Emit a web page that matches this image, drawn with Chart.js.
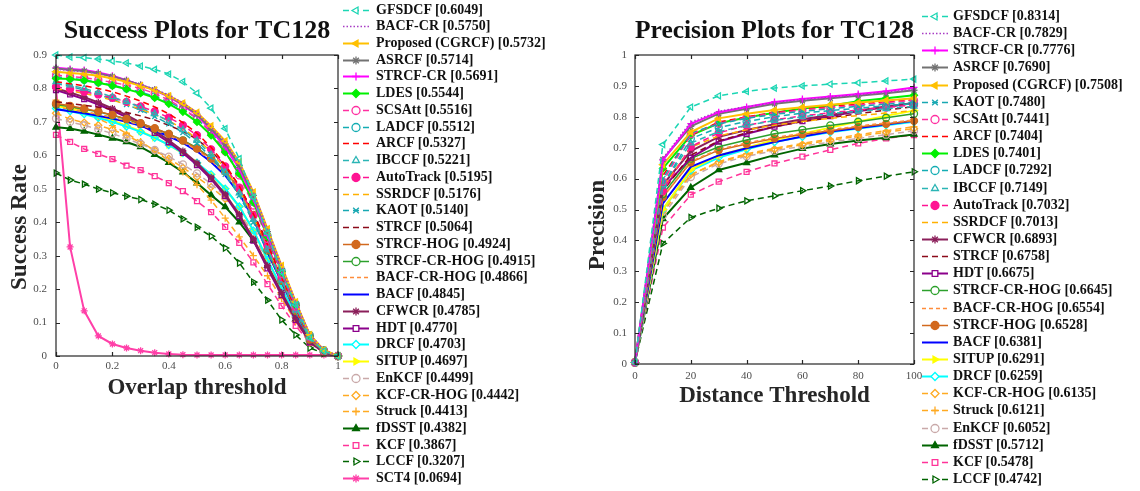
<!DOCTYPE html>
<html>
<head>
<meta charset="utf-8">
<script src="https://cdn.jsdelivr.net/npm/chart.js@4.4.1/dist/chart.umd.min.js"></script>
<style>
  body { margin: 0; background: #fff; }
  #wrap { position: relative; width: 1140px; height: 491px; overflow: hidden; background: #fff; }
  #wrap > canvas { position: absolute; top: 0; }
  .legend { position: absolute; top: 0; font: bold 14px 'Liberation Serif', 'Times New Roman', serif; color: #111; }
  .legend .row { position: absolute; left: 0; height: 16px; white-space: nowrap; }
  .legend canvas { position: absolute; left: 0; top: 0; }
  .legend span { position: absolute; top: 0; line-height: 16px; }
</style>
</head>
<body>
<div id="wrap">
  <canvas id="succ" width="345" height="420" style="left:0px"></canvas>
  <canvas id="prec" width="355" height="430" style="left:575px"></canvas>
  <div id="legSucc" class="legend" style="left:341px"></div>
  <div id="legPrec" class="legend" style="left:920px"></div>
</div>
<script>
// x values of the two plots
var overlapThresholds = [0, 0.05, 0.1, 0.15, 0.2, 0.25, 0.3, 0.35, 0.4, 0.45, 0.5, 0.55, 0.6, 0.65, 0.7, 0.75, 0.8, 0.85, 0.9, 0.95, 1];
var distanceThresholds = [0, 10, 20, 30, 40, 50, 60, 70, 80, 90, 100];

// success plot, legend order + AUC scores
var successNames = ['GFSDCF', 'BACF-CR', 'Proposed (CGRCF)', 'ASRCF', 'STRCF-CR', 'LDES', 'SCSAtt', 'LADCF', 'ARCF', 'IBCCF',
  'AutoTrack', 'SSRDCF', 'KAOT', 'STRCF', 'STRCF-HOG', 'STRCF-CR-HOG', 'BACF-CR-HOG', 'BACF', 'CFWCR', 'HDT',
  'DRCF', 'SITUP', 'EnKCF', 'KCF-CR-HOG', 'Struck', 'fDSST', 'KCF', 'LCCF', 'SCT4'];
var successScores = [0.6049, 0.5750, 0.5732, 0.5714, 0.5691, 0.5544, 0.5516, 0.5512, 0.5327, 0.5221,
  0.5195, 0.5176, 0.5140, 0.5064, 0.4924, 0.4915, 0.4866, 0.4845, 0.4785, 0.4770,
  0.4703, 0.4697, 0.4499, 0.4442, 0.4413, 0.4382, 0.3867, 0.3207, 0.0694];

var sGFSDCF     = [0.900,0.894,0.892,0.888,0.882,0.876,0.867,0.857,0.843,0.820,0.786,0.741,0.680,0.590,0.475,0.368,0.250,0.153,0.054,0.015,0];
var sBACFCR     = [0.858,0.853,0.850,0.844,0.836,0.825,0.812,0.798,0.780,0.757,0.728,0.685,0.640,0.578,0.490,0.380,0.270,0.163,0.065,0.018,0];
var sProposed   = [0.850,0.846,0.843,0.838,0.830,0.820,0.808,0.795,0.778,0.756,0.728,0.688,0.643,0.580,0.490,0.380,0.270,0.162,0.064,0.018,0];
var sASRCF      = [0.860,0.855,0.852,0.845,0.836,0.824,0.810,0.796,0.777,0.753,0.723,0.680,0.634,0.570,0.480,0.372,0.262,0.158,0.062,0.017,0];
var sSTRCFCR    = [0.862,0.858,0.855,0.848,0.838,0.825,0.810,0.795,0.775,0.750,0.720,0.675,0.625,0.560,0.470,0.360,0.255,0.152,0.060,0.016,0];
var sLDES       = [0.830,0.828,0.824,0.817,0.808,0.798,0.786,0.772,0.754,0.730,0.700,0.660,0.610,0.545,0.460,0.356,0.252,0.152,0.060,0.016,0];
var sSCSAtt     = [0.840,0.836,0.832,0.826,0.818,0.810,0.800,0.785,0.765,0.741,0.710,0.668,0.612,0.540,0.450,0.350,0.245,0.148,0.058,0.016,0];
var sLADCF      = [0.835,0.830,0.826,0.818,0.810,0.800,0.789,0.776,0.760,0.738,0.710,0.668,0.615,0.548,0.460,0.360,0.255,0.155,0.062,0.017,0];
var sARCF       = [0.820,0.814,0.808,0.800,0.790,0.777,0.762,0.745,0.724,0.698,0.666,0.624,0.572,0.508,0.425,0.333,0.235,0.142,0.055,0.015,0];
var sIBCCF      = [0.820,0.810,0.800,0.788,0.775,0.760,0.743,0.724,0.702,0.676,0.644,0.602,0.550,0.487,0.408,0.320,0.227,0.137,0.054,0.015,0];
var sAutoTrack  = [0.805,0.798,0.790,0.782,0.772,0.760,0.746,0.731,0.713,0.690,0.660,0.618,0.567,0.503,0.420,0.330,0.234,0.142,0.056,0.015,0];
var sSSRDCF     = [0.800,0.793,0.785,0.776,0.765,0.752,0.738,0.722,0.703,0.680,0.650,0.610,0.560,0.497,0.415,0.325,0.230,0.140,0.055,0.015,0];
var sKAOT       = [0.815,0.806,0.795,0.782,0.768,0.752,0.735,0.716,0.694,0.668,0.636,0.594,0.543,0.480,0.400,0.315,0.224,0.135,0.053,0.015,0];
var sSTRCF      = [0.760,0.755,0.750,0.744,0.737,0.728,0.718,0.706,0.690,0.672,0.648,0.614,0.568,0.508,0.428,0.338,0.240,0.146,0.057,0.015,0];
var sSTRCFHOG   = [0.755,0.748,0.740,0.731,0.721,0.709,0.696,0.681,0.664,0.644,0.620,0.590,0.552,0.500,0.422,0.318,0.226,0.136,0.050,0.012,0];
var sSTRCFCRHOG = [0.752,0.745,0.738,0.730,0.720,0.708,0.695,0.680,0.664,0.645,0.622,0.592,0.553,0.500,0.420,0.315,0.225,0.135,0.050,0.012,0];
var sBACFCRHOG  = [0.745,0.738,0.731,0.723,0.714,0.703,0.690,0.676,0.659,0.640,0.616,0.585,0.546,0.493,0.415,0.313,0.222,0.133,0.050,0.012,0];
var sBACF       = [0.738,0.732,0.726,0.718,0.710,0.700,0.688,0.674,0.657,0.637,0.612,0.580,0.540,0.485,0.410,0.310,0.220,0.132,0.050,0.012,0];
var sCFWCR      = [0.800,0.788,0.774,0.758,0.740,0.720,0.698,0.673,0.645,0.613,0.577,0.534,0.484,0.423,0.350,0.270,0.190,0.113,0.043,0.011,0];
var sHDT        = [0.795,0.782,0.768,0.752,0.734,0.714,0.692,0.667,0.639,0.607,0.571,0.529,0.479,0.418,0.345,0.262,0.182,0.108,0.041,0.011,0];
var sDRCF       = [0.740,0.732,0.723,0.712,0.700,0.686,0.670,0.652,0.631,0.607,0.578,0.543,0.500,0.447,0.375,0.288,0.203,0.120,0.045,0.012,0];
var sSITUP      = [0.748,0.739,0.729,0.717,0.704,0.689,0.672,0.653,0.631,0.606,0.577,0.542,0.500,0.446,0.375,0.288,0.202,0.120,0.045,0.012,0];
var sEnKCF      = [0.710,0.700,0.690,0.678,0.665,0.650,0.634,0.616,0.596,0.573,0.546,0.515,0.477,0.430,0.365,0.283,0.200,0.120,0.045,0.012,0];
var sKCFCRHOG   = [0.726,0.708,0.698,0.690,0.677,0.660,0.638,0.615,0.590,0.563,0.535,0.505,0.470,0.430,0.365,0.282,0.198,0.116,0.043,0.011,0];
var sStruck     = [0.765,0.748,0.730,0.710,0.689,0.666,0.641,0.614,0.584,0.550,0.512,0.466,0.412,0.356,0.300,0.240,0.172,0.103,0.038,0.010,0];
var sfDSST      = [0.684,0.680,0.672,0.662,0.651,0.640,0.625,0.602,0.578,0.550,0.517,0.481,0.446,0.400,0.345,0.270,0.190,0.110,0.045,0.012,0];
var sKCF        = [0.661,0.640,0.619,0.604,0.589,0.569,0.556,0.538,0.517,0.493,0.463,0.430,0.386,0.338,0.280,0.215,0.150,0.090,0.040,0.012,0];
var sLCCF       = [0.547,0.526,0.514,0.499,0.488,0.478,0.468,0.454,0.436,0.410,0.385,0.358,0.323,0.278,0.221,0.167,0.108,0.063,0.024,0.008,0];
var sSCT4       = [0.800,0.326,0.135,0.060,0.036,0.024,0.016,0.010,0.006,0.004,0.003,0.003,0.003,0.003,0.003,0.003,0.003,0.003,0.003,0.003,0];

var successSeries = [sGFSDCF, sBACFCR, sProposed, sASRCF, sSTRCFCR, sLDES, sSCSAtt, sLADCF, sARCF, sIBCCF,
  sAutoTrack, sSSRDCF, sKAOT, sSTRCF, sSTRCFHOG, sSTRCFCRHOG, sBACFCRHOG, sBACF, sCFWCR, sHDT,
  sDRCF, sSITUP, sEnKCF, sKCFCRHOG, sStruck, sfDSST, sKCF, sLCCF, sSCT4];

// precision plot, legend order + scores at 20 px
var precisionNames = ['GFSDCF', 'BACF-CR', 'STRCF-CR', 'ASRCF', 'Proposed (CGRCF)', 'KAOT', 'SCSAtt', 'ARCF', 'LDES', 'LADCF',
  'IBCCF', 'AutoTrack', 'SSRDCF', 'CFWCR', 'STRCF', 'HDT', 'STRCF-CR-HOG', 'BACF-CR-HOG', 'STRCF-HOG', 'BACF',
  'SITUP', 'DRCF', 'KCF-CR-HOG', 'Struck', 'EnKCF', 'fDSST', 'KCF', 'LCCF'];
var precisionScores = [0.8314, 0.7829, 0.7776, 0.7690, 0.7508, 0.7480, 0.7441, 0.7404, 0.7401, 0.7292,
  0.7149, 0.7032, 0.7013, 0.6893, 0.6758, 0.6675, 0.6645, 0.6554, 0.6528, 0.6381,
  0.6291, 0.6259, 0.6135, 0.6121, 0.6052, 0.5712, 0.5478, 0.4742];

var pGFSDCF     = [0.005,0.710,0.8314,0.868,0.882,0.893,0.900,0.906,0.910,0.916,0.922];
var pBACFCR     = [0.005,0.665,0.7829,0.818,0.833,0.846,0.856,0.863,0.871,0.879,0.889];
var pSTRCFCR    = [0.005,0.660,0.7776,0.815,0.832,0.848,0.858,0.866,0.874,0.883,0.895];
var pASRCF      = [0.005,0.662,0.7690,0.810,0.826,0.842,0.852,0.860,0.868,0.876,0.886];
var pProposed   = [0.005,0.645,0.7508,0.795,0.810,0.822,0.831,0.839,0.846,0.853,0.860];
var pKAOT       = [0.005,0.600,0.7480,0.777,0.795,0.808,0.818,0.826,0.834,0.841,0.848];
var pSCSAtt     = [0.005,0.590,0.7441,0.778,0.798,0.812,0.822,0.830,0.838,0.846,0.853];
var pARCF       = [0.005,0.610,0.7404,0.783,0.800,0.814,0.824,0.833,0.841,0.848,0.855];
var pLDES       = [0.005,0.633,0.7401,0.779,0.798,0.813,0.827,0.836,0.850,0.860,0.870];
var pLADCF      = [0.005,0.580,0.7292,0.765,0.785,0.800,0.812,0.820,0.828,0.836,0.843];
var pIBCCF      = [0.005,0.580,0.7149,0.752,0.772,0.788,0.800,0.810,0.818,0.826,0.834];
var pAutoTrack  = [0.005,0.560,0.7032,0.748,0.772,0.790,0.803,0.813,0.822,0.830,0.838];
var pSSRDCF     = [0.005,0.570,0.7013,0.738,0.758,0.773,0.785,0.795,0.804,0.812,0.820];
var pCFWCR      = [0.005,0.580,0.6893,0.735,0.757,0.776,0.792,0.806,0.820,0.833,0.845];
var pSTRCF      = [0.005,0.560,0.6758,0.722,0.748,0.768,0.784,0.797,0.810,0.822,0.833];
var pHDT        = [0.005,0.570,0.6675,0.720,0.745,0.768,0.786,0.802,0.818,0.832,0.845];
var pSTRCFCRHOG = [0.005,0.550,0.6645,0.703,0.725,0.745,0.758,0.772,0.784,0.797,0.810];
var pBACFCRHOG  = [0.005,0.540,0.6554,0.695,0.715,0.733,0.746,0.758,0.770,0.780,0.790];
var pSTRCFHOG   = [0.005,0.540,0.6528,0.692,0.712,0.730,0.743,0.755,0.767,0.777,0.787];
var pBACF       = [0.005,0.520,0.6381,0.675,0.698,0.718,0.736,0.752,0.764,0.775,0.787];
var pSITUP      = [0.005,0.500,0.6291,0.675,0.700,0.725,0.745,0.765,0.785,0.803,0.820];
var pDRCF       = [0.005,0.500,0.6259,0.668,0.695,0.718,0.735,0.750,0.762,0.773,0.784];
var pKCFCRHOG   = [0.005,0.500,0.6135,0.652,0.676,0.695,0.710,0.724,0.737,0.750,0.762];
var pStruck     = [0.005,0.490,0.6121,0.655,0.680,0.698,0.714,0.728,0.742,0.755,0.768];
var pEnKCF      = [0.005,0.480,0.6052,0.648,0.672,0.690,0.705,0.718,0.730,0.742,0.755];
var pfDSST      = [0.005,0.470,0.5712,0.628,0.651,0.676,0.697,0.712,0.723,0.732,0.743];
var pKCF        = [0.005,0.441,0.5478,0.590,0.622,0.649,0.671,0.693,0.714,0.730,0.741];
var pLCCF       = [0.005,0.390,0.4742,0.504,0.528,0.544,0.561,0.576,0.593,0.608,0.622];

var precisionSeries = [pGFSDCF, pBACFCR, pSTRCFCR, pASRCF, pProposed, pKAOT, pSCSAtt, pARCF, pLDES, pLADCF,
  pIBCCF, pAutoTrack, pSSRDCF, pCFWCR, pSTRCF, pHDT, pSTRCFCRHOG, pBACFCRHOG, pSTRCFHOG, pBACF,
  pSITUP, pDRCF, pKCFCRHOG, pStruck, pEnKCF, pfDSST, pKCF, pLCCF];

// line / marker look of every tracker (same in both plots)
var DASH = [6, 4];
var trackerStyle = {
  'GFSDCF':           { color: '#1cd6b4', dash: DASH, marker: 'triangle', rot: -90 },
  'BACF-CR':          { color: '#a83cc4', dash: [1.5, 2] },
  'Proposed (CGRCF)': { color: '#ffc000', marker: 'triangle', rot: -90, fill: true, w: 2 },
  'ASRCF':            { color: '#727272', marker: 'star', w: 2 },
  'STRCF-CR':         { color: '#ff00ff', marker: 'cross', w: 2 },
  'LDES':             { color: '#00f000', marker: 'rectRot', fill: true, w: 2 },
  'SCSAtt':           { color: '#ff2fa0', dash: DASH, marker: 'circle' },
  'LADCF':            { color: '#14adb3', dash: DASH, marker: 'circle' },
  'ARCF':             { color: '#ff0000', dash: DASH },
  'IBCCF':            { color: '#2bb5b5', dash: DASH, marker: 'triangle' },
  'AutoTrack':        { color: '#ff1493', dash: DASH, marker: 'circle', fill: true },
  'SSRDCF':           { color: '#ffb000', dash: DASH },
  'KAOT':             { color: '#18a8b2', dash: DASH, marker: 'crossRot' },
  'STRCF':            { color: '#8b0a1a', dash: DASH },
  'STRCF-HOG':        { color: '#d2691e', marker: 'circle', fill: true },
  'STRCF-CR-HOG':     { color: '#2ca02c', marker: 'circle' },
  'BACF-CR-HOG':      { color: '#ff8c3a', dash: [4, 3] },
  'BACF':             { color: '#0000ff', w: 2 },
  'CFWCR':            { color: '#8b1f5a', marker: 'star', w: 2 },
  'HDT':              { color: '#8b008b', marker: 'rect', w: 2 },
  'DRCF':             { color: '#00ffff', marker: 'rectRot', w: 2 },
  'SITUP':            { color: '#ffff00', marker: 'triangle', rot: 90, fill: true, w: 2 },
  'EnKCF':            { color: '#c9a9a9', dash: DASH, marker: 'circle' },
  'KCF-CR-HOG':       { color: '#ffaa22', dash: DASH, marker: 'rectRot' },
  'Struck':           { color: '#ffaa22', dash: DASH, marker: 'cross' },
  'fDSST':            { color: '#006400', marker: 'triangle', fill: true, w: 2 },
  'KCF':              { color: '#ff3399', dash: DASH, marker: 'rect' },
  'LCCF':             { color: '#006400', dash: DASH, marker: 'triangle', rot: 90 },
  'SCT4':             { color: '#ff3fa8', marker: 'star', w: 2 }
};

var SERIF = "'Liberation Serif', 'Times New Roman', serif";

function makeDataset(name, xs, ys) {
  var st = trackerStyle[name];
  return {
    label: name,
    data: xs.map(function (x, i) { return { x: x, y: ys[i] }; }),
    borderColor: st.color,
    backgroundColor: st.color,
    borderWidth: st.w || 1.5,
    borderDash: st.dash || [],
    pointStyle: st.marker || false,
    pointRadius: st.marker ? 3.5 : 0,
    pointRotation: st.rot || 0,
    pointBorderColor: st.color,
    pointBackgroundColor: st.fill ? st.color : 'rgba(255,255,255,0)',
    pointBorderWidth: 1.3,
    tension: 0,
    clip: 10
  };
}

// tick text like matlab: 0, 0.2, 1, 100
function plainTick(v) {
  return String(Math.round(v * 100) / 100);
}

// MATLAB style box with inward ticks + y axis label
var axisBox = {
  id: 'axisBox',
  afterDatasetsDraw: function (chart) {
    var ctx = chart.ctx, a = chart.chartArea, x = chart.scales.x, y = chart.scales.y;
    ctx.save();
    ctx.strokeStyle = '#262626';
    ctx.lineWidth = 1.2;
    ctx.strokeRect(a.left, a.top, a.right - a.left, a.bottom - a.top);
    ctx.beginPath();
    x.ticks.forEach(function (t) {
      var px = Math.round(x.getPixelForValue(t.value)) + 0.5;
      ctx.moveTo(px, a.bottom); ctx.lineTo(px, a.bottom - 4);
      ctx.moveTo(px, a.top); ctx.lineTo(px, a.top + 4);
    });
    y.ticks.forEach(function (t) {
      var py = Math.round(y.getPixelForValue(t.value)) + 0.5;
      ctx.moveTo(a.left, py); ctx.lineTo(a.left + 4, py);
      ctx.moveTo(a.right, py); ctx.lineTo(a.right - 4, py);
    });
    ctx.stroke();
    ctx.restore();
  },
  afterDraw: function (chart, args, opts) {
    var ctx = chart.ctx;
    ctx.save();
    ctx.translate(opts.x, opts.y);
    ctx.rotate(-Math.PI / 2);
    ctx.font = 'bold 23px ' + SERIF;
    ctx.fillStyle = '#262626';
    ctx.textAlign = 'center';
    ctx.textBaseline = 'alphabetic';
    ctx.fillText(opts.text, 0, 0);
    ctx.restore();
  }
};

function makeChart(id, cfg) {
  var tickFont = { family: SERIF, size: 11 };
  return new Chart(document.getElementById(id), {
    type: 'line',
    data: { datasets: cfg.names.map(function (n, i) { return makeDataset(n, cfg.xs, cfg.series[i]); }) },
    plugins: [axisBox],
    options: {
      responsive: false,
      animation: false,
      devicePixelRatio: 1,
      layout: { padding: { left: 0, right: cfg.padRight, top: 0, bottom: 0 } },
      plugins: {
        legend: { display: false },
        tooltip: { enabled: false },
        title: {
          display: true, text: cfg.title, fullSize: false, color: '#111',
          font: { family: SERIF, size: 26, weight: 'bold' },
          padding: { top: 16, bottom: 7.8 }
        },
        axisBox: cfg.yTitle
      },
      scales: {
        x: {
          type: 'linear', min: cfg.xMin, max: cfg.xMax,
          ticks: { stepSize: cfg.xStep, padding: cfg.xTickPad, color: '#4d4d4d', font: tickFont, callback: plainTick },
          grid: { display: false, drawTicks: false },
          border: { display: false },
          title: { display: true, text: cfg.xTitle, color: '#262626', font: { family: SERIF, size: 23, weight: 'bold' }, padding: { top: 0, bottom: cfg.xTitlePad } },
          afterFit: function (s) { s.height = cfg.xHeight; }
        },
        y: {
          min: 0, max: cfg.yMax,
          ticks: { stepSize: 0.1, padding: cfg.yTickPad, color: '#4d4d4d', font: tickFont, callback: plainTick },
          grid: { display: false, drawTicks: false },
          border: { display: false },
          afterFit: function (s) { s.width = cfg.yWidth; }
        }
      }
    }
  });
}

makeChart('succ', {
  names: successNames, series: successSeries, xs: overlapThresholds,
  title: 'Success Plots for TC128', xTitle: 'Overlap threshold',
  xMin: 0, xMax: 1, xStep: 0.2, yMax: 0.9,
  padRight: 7, xHeight: 64, yWidth: 56, xTickPad: 4, yTickPad: 9, xTitlePad: 18,
  yTitle: { text: 'Success Rate', x: 26, y: 227 }
});

makeChart('prec', {
  names: precisionNames, series: precisionSeries, xs: distanceThresholds,
  title: 'Precision Plots for TC128', xTitle: 'Distance Threshold',
  xMin: 0, xMax: 100, xStep: 20, yMax: 1,
  padRight: 16, xHeight: 66, yWidth: 60, xTickPad: 5.5, yTickPad: 8, xTitlePad: 20,
  yTitle: { text: 'Precision', x: 29, y: 225 }
});

// html legends: line sample + marker, then name and score
function buildLegend(elId, names, scores, firstY, step, textLeft) {
  var el = document.getElementById(elId);
  names.forEach(function (name, i) {
    var st = trackerStyle[name];
    var row = document.createElement('div');
    row.className = 'row';
    row.style.top = Math.round(firstY + i * step - 8) + 'px';
    var c = document.createElement('canvas');
    c.width = 31; c.height = 16;
    var ctx = c.getContext('2d');
    ctx.strokeStyle = st.color;
    ctx.lineWidth = st.w || 1.5;
    ctx.setLineDash(st.dash || []);
    ctx.beginPath(); ctx.moveTo(2, 8.5); ctx.lineTo(28, 8.5); ctx.stroke();
    ctx.setLineDash([]);
    if (st.marker && Chart.helpers && Chart.helpers.drawPoint) {
      ctx.fillStyle = st.fill ? st.color : '#fff';
      ctx.lineWidth = 1.3;
      Chart.helpers.drawPoint(ctx, { pointStyle: st.marker, radius: 4, rotation: st.rot || 0, borderWidth: 1.3 }, 15, 8.5);
    }
    var span = document.createElement('span');
    span.style.left = textLeft + 'px';
    span.textContent = name + ' [' + scores[i].toFixed(4) + ']';
    row.appendChild(c);
    row.appendChild(span);
    el.appendChild(row);
  });
}

buildLegend('legSucc', successNames, successScores, 9.5, 16.74, 35);
buildLegend('legPrec', precisionNames, precisionScores, 16, 17.15, 33);
</script>
</body>
</html>
